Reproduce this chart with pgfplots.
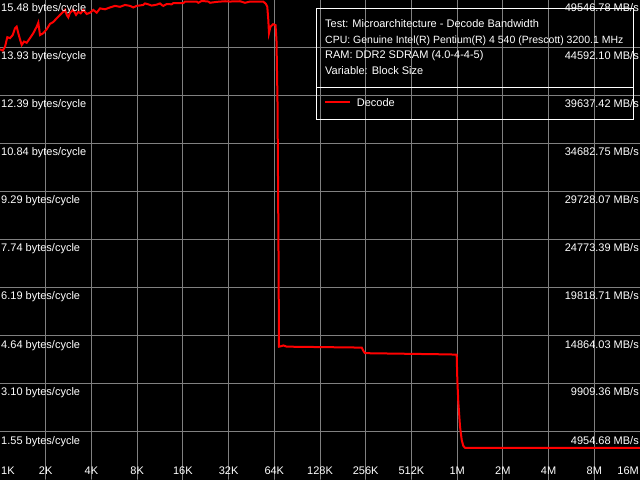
\documentclass[border=0pt]{standalone}
\usepackage{pgfplots}
\pgfplotsset{compat=1.18}
\usepackage{fontspec}
\setmainfont{Liberation Sans}
\begin{document}
\begin{tikzpicture}[lbl/.style={text=white,inner sep=0pt,font=\fontsize{11bp}{13bp}\selectfont}]
\begin{axis}[
  scale only axis, width=640bp, height=480bp,
  xmin=0, xmax=14, ymin=0, ymax=15.48,
  axis background/.style={fill=black},
  axis line style={draw=none},
  tick style={draw=none}, major tick length=0pt,
  xtick={1,...,13},
  ytick={1.548,3.096,4.644,6.192,7.74,9.288,10.836,12.384,13.932,15.48},
  xticklabel={}, yticklabel={},
  ticklabel style={inner sep=0pt,outer sep=0pt},
  grid=major, major grid style={gray, line width=1bp},
  clip=true,
]
\addplot[red, line width=2bp] coordinates {
(0.000,13.89) (0.059,13.85) (0.109,13.97) (0.160,14.28) (0.219,14.25) (0.278,14.35)
(0.328,14.57) (0.365,14.62) (0.400,14.41) (0.438,14.21) (0.475,14.03) (0.525,14.14)
(0.584,14.10) (0.656,14.25) (0.728,14.41) (0.803,14.62) (0.838,14.75) (0.875,14.35)
(0.947,14.41) (1.022,14.54) (1.094,14.71) (1.166,14.77) (1.240,14.89) (1.313,15.00)
(1.385,15.10) (1.422,15.16) (1.459,15.00) (1.494,14.92) (1.531,15.07) (1.603,15.16)
(1.663,15.00) (1.713,15.10) (1.765,15.05) (1.822,15.16) (1.897,15.03) (1.969,15.07)
(2.041,15.16) (2.115,15.07) (2.188,15.21) (2.297,15.18) (2.406,15.24) (2.516,15.29)
(2.625,15.26) (2.734,15.32) (2.844,15.29) (2.916,15.24) (2.990,15.29) (3.135,15.32)
(3.172,15.37) (3.244,15.34) (3.318,15.30) (3.428,15.33) (3.500,15.37) (3.537,15.32)
(3.572,15.29) (3.646,15.35) (3.756,15.34) (3.791,15.38) (4.010,15.38) (4.047,15.43)
(4.303,15.43) (4.338,15.39) (4.412,15.45) (4.557,15.43) (4.594,15.39) (4.740,15.42)
(4.922,15.44) (5.031,15.43) (5.250,15.44) (5.359,15.39) (5.469,15.43) (5.760,15.43)
(5.819,15.35) (5.847,15.26) (5.869,14.84) (5.884,14.41) (5.917,14.62) (5.972,14.70)
(6.027,14.67) (6.048,14.19) (6.070,12.26) (6.092,7.42) (6.103,4.30) (6.162,4.32)
(6.197,4.34) (6.272,4.30) (7.912,4.27) (7.947,4.17) (7.984,4.09) (9.844,4.05)
(9.990,4.04) (10.004,3.23) (10.025,2.53) (10.063,1.72) (10.100,1.29) (10.135,1.10)
(10.172,1.04) (14.0,1.04)
};
% left labels
\node[lbl,anchor=base west] at (axis description cs:0.0016,0.975) {15.48 bytes/cycle};
\node[lbl,anchor=base west] at (axis description cs:0.0016,0.875) {13.93 bytes/cycle};
\node[lbl,anchor=base west] at (axis description cs:0.0016,0.775) {12.39 bytes/cycle};
\node[lbl,anchor=base west] at (axis description cs:0.0016,0.675) {10.84 bytes/cycle};
\node[lbl,anchor=base west] at (axis description cs:0.0016,0.575) {9.29 bytes/cycle};
\node[lbl,anchor=base west] at (axis description cs:0.0016,0.475) {7.74 bytes/cycle};
\node[lbl,anchor=base west] at (axis description cs:0.0016,0.375) {6.19 bytes/cycle};
\node[lbl,anchor=base west] at (axis description cs:0.0016,0.275) {4.64 bytes/cycle};
\node[lbl,anchor=base west] at (axis description cs:0.0016,0.175) {3.10 bytes/cycle};
\node[lbl,anchor=base west] at (axis description cs:0.0016,0.075) {1.55 bytes/cycle};
% right labels
\node[lbl,anchor=base east] at (axis description cs:0.9984,0.975) {49546.78 MB/s};
\node[lbl,anchor=base east] at (axis description cs:0.9984,0.875) {44592.10 MB/s};
\node[lbl,anchor=base east] at (axis description cs:0.9984,0.775) {39637.42 MB/s};
\node[lbl,anchor=base east] at (axis description cs:0.9984,0.675) {34682.75 MB/s};
\node[lbl,anchor=base east] at (axis description cs:0.9984,0.575) {29728.07 MB/s};
\node[lbl,anchor=base east] at (axis description cs:0.9984,0.475) {24773.39 MB/s};
\node[lbl,anchor=base east] at (axis description cs:0.9984,0.375) {19818.71 MB/s};
\node[lbl,anchor=base east] at (axis description cs:0.9984,0.275) {14864.03 MB/s};
\node[lbl,anchor=base east] at (axis description cs:0.9984,0.175) {9909.36 MB/s};
\node[lbl,anchor=base east] at (axis description cs:0.9984,0.075) {4954.68 MB/s};
% x labels
\node[lbl,anchor=base west] at (axis description cs:0.0016,0.0125) {1K};
\node[lbl,anchor=base] at (axis description cs:0.071429,0.0125) {2K};
\node[lbl,anchor=base] at (axis description cs:0.142857,0.0125) {4K};
\node[lbl,anchor=base] at (axis description cs:0.214286,0.0125) {8K};
\node[lbl,anchor=base] at (axis description cs:0.285714,0.0125) {16K};
\node[lbl,anchor=base] at (axis description cs:0.357143,0.0125) {32K};
\node[lbl,anchor=base] at (axis description cs:0.428571,0.0125) {64K};
\node[lbl,anchor=base] at (axis description cs:0.5,0.0125) {128K};
\node[lbl,anchor=base] at (axis description cs:0.571429,0.0125) {256K};
\node[lbl,anchor=base] at (axis description cs:0.642857,0.0125) {512K};
\node[lbl,anchor=base] at (axis description cs:0.714286,0.0125) {1M};
\node[lbl,anchor=base] at (axis description cs:0.785714,0.0125) {2M};
\node[lbl,anchor=base] at (axis description cs:0.857143,0.0125) {4M};
\node[lbl,anchor=base] at (axis description cs:0.928571,0.0125) {8M};
\node[lbl,anchor=base east] at (axis description cs:0.9984,0.0125) {16M};
% legend box
\draw[white, line width=1bp] (axis description cs:0.4953,0.98125) rectangle (axis description cs:0.9891,0.75);
\draw[white, line width=1bp] (axis description cs:0.4953,0.8167) -- (axis description cs:0.9891,0.8167);
\node[lbl,anchor=base west] at (axis description cs:0.5078,0.9417) {Test: Microarchitecture - Decode Bandwidth};
\node[lbl,anchor=base west,font=\fontsize{10.5bp}{13bp}\selectfont] at (axis description cs:0.5078,0.9104) {CPU: Genuine Intel(R) Pentium(R) 4 540 (Prescott) 3200.1 MHz};
\node[lbl,anchor=base west] at (axis description cs:0.5078,0.8785) {RAM: DDR2 SDRAM (4.0-4-4-5)};
\node[lbl,anchor=base west] at (axis description cs:0.5078,0.8458) {Variable: Block Size};
\draw[red, line width=2bp] (axis description cs:0.5078,0.788) -- (axis description cs:0.5469,0.788);
\node[lbl,anchor=base west] at (axis description cs:0.5573,0.7778) {Decode};
\end{axis}
\pgfresetboundingbox
\path (current axis.south west) rectangle (current axis.north east);
\end{tikzpicture}
\end{document}
